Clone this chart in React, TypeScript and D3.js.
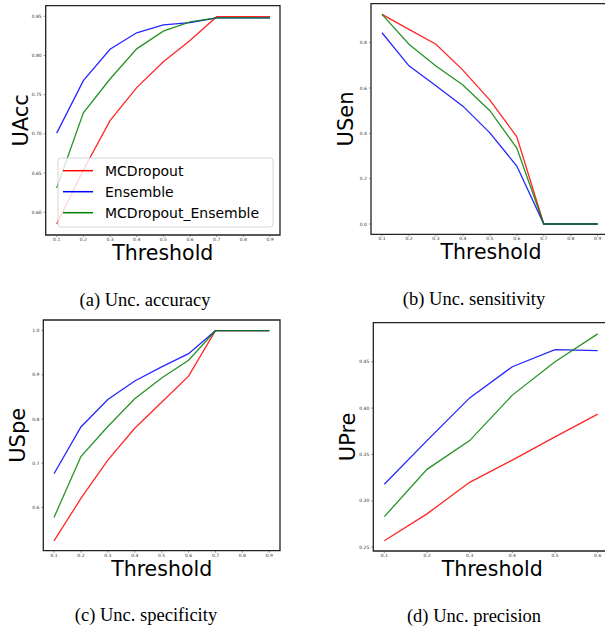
import * as d3 from 'd3';
import React from 'react';

// thresholds per panel
const thresholds = [0.1, 0.2, 0.3, 0.4, 0.5, 0.6, 0.7, 0.8, 0.9];
const thresholdsPre = [0.1, 0.2, 0.3, 0.4, 0.5, 0.6];

// (a) accuracy
const accMCDropout = [0.585, 0.654, 0.717, 0.759, 0.792, 0.819, 0.8495, 0.8495, 0.8495];
const accEnsemble = [0.701, 0.768, 0.808, 0.829, 0.839, 0.842, 0.848, 0.848, 0.848];
const accMCDropoutEnsemble = [0.631, 0.727, 0.77, 0.8085, 0.831, 0.843, 0.848, 0.848, 0.848];

// (b) sensitivity
const senMCDropout = [0.925, 0.859, 0.793, 0.679, 0.547, 0.385, 0, 0, 0];
const senEnsemble = [0.844, 0.698, 0.61, 0.52, 0.402, 0.256, 0, 0, 0];
const senMCDropoutEnsemble = [0.925, 0.793, 0.697, 0.613, 0.5, 0.335, 0, 0, 0];

// (c) specificity
const speMCDropout = [0.524, 0.62, 0.707, 0.779, 0.838, 0.897, 1, 1, 1];
const speEnsemble = [0.676, 0.782, 0.844, 0.886, 0.918, 0.948, 1, 1, 1];
const speMCDropoutEnsemble = [0.577, 0.715, 0.783, 0.846, 0.893, 0.933, 1, 1, 1];

// (d) precision
const preMCDropout = [0.257, 0.286, 0.32, 0.344, 0.369, 0.3935];
const preEnsemble = [0.318, 0.365, 0.411, 0.4446, 0.463, 0.462];
const preMCDropoutEnsemble = [0.283, 0.334, 0.365, 0.414, 0.45, 0.48];

// tick labels
const xTicks9 = [0.1, 0.2, 0.3, 0.4, 0.5, 0.6, 0.7, 0.8, 0.9];
const xTicks6 = [0.1, 0.2, 0.3, 0.4, 0.5, 0.6];
const accTicks = [0.6, 0.65, 0.7, 0.75, 0.8, 0.85];
const senTicks = [0, 0.2, 0.4, 0.6, 0.8];
const speTicks = [0.6, 0.7, 0.8, 0.9, 1.0];
const preTicks = [0.25, 0.3, 0.35, 0.4, 0.45];

const seriesNames = ['MCDropout', 'Ensemble', 'MCDropout_Ensemble'];
const colors = ['#ff0000', '#0000ff', '#008000'];

const Panel = ({ box, xDom, xRange, yDom, yRange, xs, series, xTicks, yTicks, yFmt, yLabel, caption, capX, legend }) => {
    const x = d3.scaleLinear().domain(xDom).range(xRange);
    const y = d3.scaleLinear().domain(yDom).range(yRange);
    const line = d3.line().x((d, i) => x(xs[i])).y(d => y(d));
    const fmt = d3.format(yFmt);
    const xMid = (box.left + box.right) / 2;
    const yMid = (box.top + box.bottom) / 2;

    return (
        <g>
            {series.map((s, i) => (
                <path key={i} d={line(s)} fill="none" stroke={colors[i]} strokeWidth={1.3} strokeOpacity={0.85} />
            ))}
            {/* spines */}
            <path
                d={`M${box.left},${box.top}H${box.right}V${box.bottom}H${box.left}Z`}
                fill="none" stroke="#222" strokeWidth={1.3}
            />
            {xTicks.map(t => (
                <g key={t} transform={`translate(${x(t)},${box.bottom})`}>
                    <line y2={2} stroke="#444" strokeWidth={0.6} />
                    <text y={6} textAnchor="middle" fontSize={4.5} fill="#333" fontFamily="DejaVu Sans">{t.toFixed(1)}</text>
                </g>
            ))}
            {yTicks.map(t => (
                <g key={t} transform={`translate(${box.left},${y(t)})`}>
                    <line x2={-2} stroke="#444" strokeWidth={0.6} />
                    <text x={-4} dy="0.35em" textAnchor="end" fontSize={4.5} fill="#333" fontFamily="DejaVu Sans">{fmt(t)}</text>
                </g>
            ))}
            <text x={xMid} y={box.bottom + 25} textAnchor="middle" fontSize={20.5} fontFamily="DejaVu Sans" fill="#000">Threshold</text>
            <text transform={`translate(${box.left - 18},${yMid}) rotate(-90)`} textAnchor="middle" fontSize={21} fontFamily="DejaVu Sans" fill="#000">{yLabel}</text>
            <text x={capX} y={box.bottom + 70.5} textAnchor="middle" fontSize={18.5} fontFamily="Liberation Serif, serif" fill="#000">{caption}</text>
            {legend && (
                <g transform={`translate(${legend.x},${legend.y})`}>
                    <rect width={215} height={69} rx={3} fill="#fff" fillOpacity={0.8} stroke="#ccc" strokeWidth={0.8} />
                    {seriesNames.map((n, i) => (
                        <g key={n} transform={`translate(0,${12.7 + i * 21})`}>
                            <line x1={5} x2={35} stroke={colors[i]} strokeWidth={1.5} />
                            <text x={47} dy="0.35em" fontSize={14} fontFamily="DejaVu Sans" fill="#000">{n}</text>
                        </g>
                    ))}
                </g>
            )}
        </g>
    );
};

export default function App() {
    return (
        <svg width={605} height={631} style={{ position: 'absolute', left: 0, top: 0, background: '#fff' }}>
            <Panel
                box={{ left: 45.7, right: 280, top: 5.7, bottom: 235 }}
                xDom={[0.1, 0.9]} xRange={[56.7, 270]}
                yDom={[0.6, 0.85]} yRange={[212.3, 16.3]}
                xs={thresholds}
                series={[accMCDropout, accEnsemble, accMCDropoutEnsemble]}
                xTicks={xTicks9} yTicks={accTicks} yFmt=".2f"
                yLabel="UAcc" caption="(a) Unc. accuracy" capX={145}
                legend={{ x: 58, y: 158 }}
            />
            <Panel
                box={{ left: 371, right: 611, top: 3.7, bottom: 234.3 }}
                xDom={[0.1, 0.9]} xRange={[382, 597.7]}
                yDom={[0, 0.8]} yRange={[224, 42.7]}
                xs={thresholds}
                series={[senMCDropout, senEnsemble, senMCDropoutEnsemble]}
                xTicks={xTicks9} yTicks={senTicks} yFmt=".1f"
                yLabel="USen" caption="(b) Unc. sensitivity" capX={474}
            />
            <Panel
                box={{ left: 43.3, right: 280, top: 320, bottom: 550.7 }}
                xDom={[0.1, 0.9]} xRange={[54, 269.3]}
                yDom={[0.6, 1.0]} yRange={[507.3, 330.7]}
                xs={thresholds}
                series={[speMCDropout, speEnsemble, speMCDropoutEnsemble]}
                xTicks={xTicks9} yTicks={speTicks} yFmt=".1f"
                yLabel="USpe" caption="(c) Unc. specificity" capX={146}
            />
            <Panel
                box={{ left: 373.3, right: 611, top: 322.7, bottom: 551 }}
                xDom={[0.1, 0.6]} xRange={[384.3, 597.7]}
                yDom={[0.25, 0.45]} yRange={[547.3, 361.7]}
                xs={thresholdsPre}
                series={[preMCDropout, preEnsemble, preMCDropoutEnsemble]}
                xTicks={xTicks6} yTicks={preTicks} yFmt=".2f"
                yLabel="UPre" caption="(d) Unc. precision" capX={474}
            />
        </svg>
    );
}
